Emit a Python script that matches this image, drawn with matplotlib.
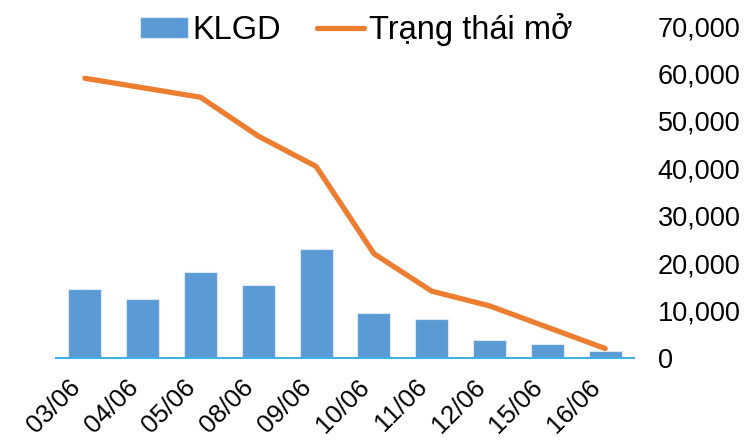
import matplotlib
matplotlib.use("Agg")
import matplotlib.pyplot as plt
from matplotlib.ticker import FuncFormatter

dates = ["03/06", "04/06", "05/06", "08/06", "09/06", "10/06", "11/06", "12/06", "15/06", "16/06"]
klgd = [14650, 12400, 18050, 15350, 23000, 9400, 8300, 3750, 2900, 1500]
trang_thai_mo = [59000, 57000, 55000, 46800, 40400, 22000, 14100, 11000, 6500, 2000]

plt.rcParams["font.family"] = ["Liberation Sans", "DejaVu Sans"]

fig = plt.figure(figsize=(7.46, 4.42), dpi=100)
ax = fig.add_axes([0.075, 0.19, 0.775, 0.751])

x = range(len(dates))
bars = ax.bar(x, klgd, width=0.57, color="#5B9BD5", edgecolor="#DCE8F5", linewidth=0.8,
              label="KLGD", zorder=2)
line, = ax.plot(x, trang_thai_mo, color="#ED7D31", linewidth=3.8, label="Trạng thái mở",
                solid_capstyle="round", zorder=3)

ax.set_xlim(-0.5, len(dates) - 0.5)
ax.set_ylim(0, 70000)
ax.set_yticks(range(0, 70001, 10000))
ax.yaxis.set_major_formatter(FuncFormatter(lambda v, p: f"{int(v):,}"))
ax.yaxis.tick_right()
ax.tick_params(axis="y", length=0, pad=17, labelsize=19.5)
ax.tick_params(axis="x", length=0, pad=12, labelsize=18.5)

ax.set_xticks(list(x))
ax.set_xticklabels(dates, rotation=45, ha="right")

for s in ["top", "left", "right"]:
    ax.spines[s].set_visible(False)
ax.spines["bottom"].set_color("#41B0E4")
ax.spines["bottom"].set_linewidth(1.5)

leg = ax.legend([bars, line], ["KLGD", "Trạng thái mở"], loc="center",
                bbox_to_anchor=(0.52, 0.99), ncol=2, frameon=False,
                fontsize=23.5, handlelength=1.45, handleheight=0.6,
                handletextpad=0.15, columnspacing=1.1, borderpad=0)

fig.savefig("out.png", dpi=100)
